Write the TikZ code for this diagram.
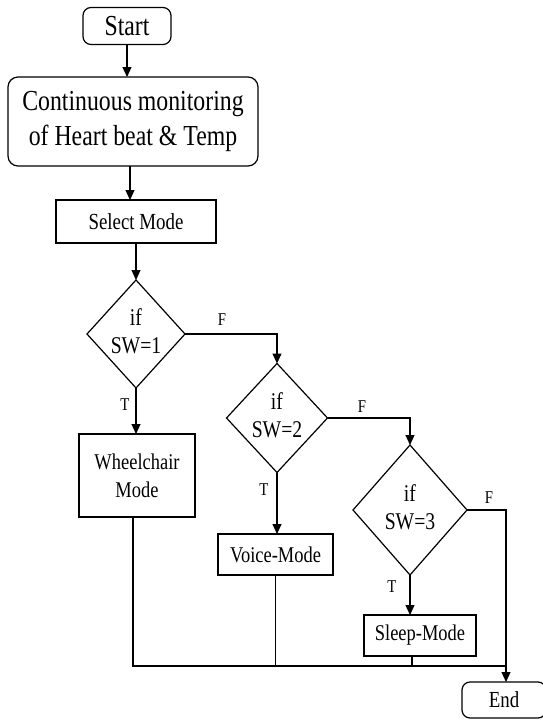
\documentclass[tikz,border=0pt]{standalone}
\usepackage{fontspec}
\setmainfont[FakeStretch=0.82]{Liberation Serif}
\usetikzlibrary{shapes.geometric,arrows.meta,calc}
\begin{document}
\begin{tikzpicture}[x=1pt,y=-1pt,
  every node/.style={inner sep=0pt,outer sep=0pt},
  line/.style={line width=1.2pt,draw=black},
  arr/.style={line, -{Triangle[length=10pt,width=9pt]}},
  rbox/.style={draw,line width=1.2pt,rounded corners=8pt,align=center},
  pbox/.style={draw,line width=1.2pt,align=center,font=\fontsize{22.5}{28}\selectfont},
  dia/.style={draw,line width=1.2pt,diamond},
  dtext/.style={align=center,font=\fontsize{24}{28}\selectfont},
  lab/.style={font=\fontsize{18}{20}\selectfont}
]
\useasboundingbox (0,0) rectangle (542,720);
\node[rbox,minimum width=88pt,minimum height=37pt,font=\fontsize{29}{33}\selectfont] (start) at (127,26) {Start};
\node[rbox,minimum width=250pt,minimum height=89pt,rounded corners=10pt,font=\fontsize{29}{35}\selectfont] (cont) at (133,121.5) {Continuous monitoring\\of Heart beat \& Temp};
\node[pbox,minimum width=160pt,minimum height=43pt,font=\fontsize{23}{28}\selectfont] (sel) at (136,221.5) {Select Mode};
\node[dia,minimum width=98pt,minimum height=108pt] (d1) at (136,334) {};
\node[dtext] at (136,331) {if\\SW=1};
\node[dia,minimum width=101pt,minimum height=109pt] (d2) at (277,418) {};
\node[dtext] at (277,415) {if\\SW=2};
\node[dia,minimum width=114pt,minimum height=130pt] (d3) at (410,510) {};
\node[dtext] at (410,507) {if\\SW=3};
\node[pbox,minimum width=116pt,minimum height=83pt] (wheel) at (137,475.5) {Wheelchair\\Mode};
\node[pbox,minimum width=115pt,minimum height=41pt] (voice) at (275.5,554.5) {Voice-Mode};
\node[pbox,minimum width=112pt,minimum height=41pt] (sleep) at (420,635.5) {Sleep-Mode};
\node[rbox,minimum width=84pt,minimum height=36pt,font=\fontsize{23}{28}\selectfont] (end) at (504,700) {End};
\coordinate (bus) at (506,666);

\draw[arr] (start.south) -- (start.south |- cont.north);
\draw[arr] ([xshift=-3pt]cont.south) -- ([xshift=-3pt]cont.south |- sel.north);
\draw[arr] (sel.south) -- (d1.north);
\draw[arr] (d1.east) -| (d2.north);
\node[lab] at (222,320) {F};
\draw[arr] (d1.south) -- (d1.south |- wheel.north);
\node[lab] at (125,405) {T};
\draw[arr] (d2.east) -| (d3.north);
\node[lab] at (362,407) {F};
\draw[arr] (d2.south) -- (d2.south |- voice.north);
\node[lab] at (264,490) {T};
\draw[line] (d3.east) -| (bus);
\node[lab] at (489,498) {F};
\draw[arr] (bus) -- (bus |- end.north);
\draw[arr] (d3.south) -- (d3.south |- sleep.north);
\node[lab] at (392,587) {T};
\draw[line] ([xshift=-4pt]wheel.south) -- ([xshift=-4pt]wheel.south |- bus) -- (bus);
\draw[line] (voice.south) -- (voice.south |- bus);
\draw[line] ([xshift=-8pt]sleep.south) -- ([xshift=-8pt]sleep.south |- bus);
\end{tikzpicture}
\end{document}
